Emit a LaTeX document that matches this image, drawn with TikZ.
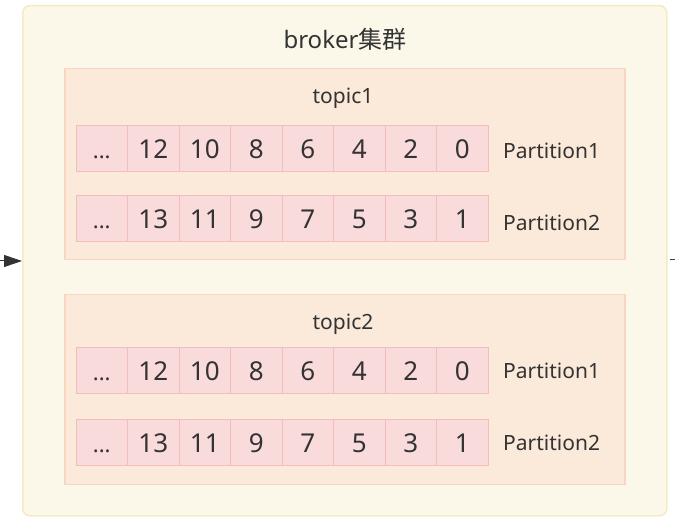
\documentclass[tikz,border=0pt]{standalone}
\usepackage{fontspec}
\setmainfont{Noto Sans}
\newfontfamily\cjk{Noto Sans CJK SC}
\usetikzlibrary{arrows.meta}
\definecolor{outerfill}{HTML}{FBF7E9}
\definecolor{outerdraw}{HTML}{F5EBC2}
\definecolor{topicfill}{HTML}{FBE9DA}
\definecolor{topicdraw}{HTML}{F8D6BF}
\definecolor{cellfill}{HTML}{FADBDC}
\definecolor{celldraw}{HTML}{F2BDBE}
\definecolor{txt}{HTML}{333333}
\newcommand{\dotcell}[1]{\vphantom{0}{\fontsize{22}{26}\selectfont #1}}
\tikzset{
  outerbox/.style={draw=outerdraw, fill=outerfill, line width=1.5pt, rounded corners=7pt},
  topicbox/.style={draw=topicdraw, fill=topicfill, line width=1.5pt},
  cellbox/.style={draw=celldraw, fill=cellfill, line width=1pt, minimum width=51.5pt, minimum height=46pt, inner sep=0pt, font=\fontsize{26}{30}\selectfont, text=txt},
  lbl/.style={font=\fontsize{21}{25}\selectfont, text=txt, inner sep=0pt},
  tlbl/.style={font=\fontsize{21}{25}\selectfont, text=txt, inner sep=0pt},
  title/.style={font=\fontsize{24}{28}\selectfont, text=txt, inner sep=0pt},
}
\begin{document}
\begin{tikzpicture}[x=1pt,y=-1pt]
\useasboundingbox (0,0) rectangle (675,518);
\node[outerbox, minimum width=644pt, minimum height=510pt, anchor=north west] (outer) at (22,5) {};
\node[title] (btitle) at (345,39) {broker{\cjk 集群}};
\node[topicbox, minimum width=560pt, minimum height=191pt, anchor=north west] (topic1) at (64,68) {};
\node[topicbox, minimum width=560pt, minimum height=190pt, anchor=north west] (topic2) at (64,294) {};
\node[tlbl] (t1lbl) at (343,98) {topic1};
\node[tlbl] (t2lbl) at (343,324) {topic2};
% cells
\foreach \t/\ya/\yb in {1/149/219, 2/371/443}{
  \foreach \i/\a/\b in {0/{...}/{...},1/12/13,2/10/11,3/8/9,4/6/7,5/4/5,6/2/3,7/0/1}{
    \node[cellbox] (c\t a\i) at ({101.75+51.5*\i},\ya) {\ifnum\i=0 \dotcell{\a}\else\a\fi};
    \node[cellbox] (c\t b\i) at ({101.75+51.5*\i},\yb) {\ifnum\i=0 \dotcell{\b}\else\b\fi};
  }
}
\node[lbl, anchor=west] (p11) at (503,151) {Partition1};
\node[lbl, anchor=west] (p12) at (503,223) {Partition2};
\node[lbl, anchor=west] (p21) at (503,371) {Partition1};
\node[lbl, anchor=west] (p22) at (503,443) {Partition2};
% connectors
\coordinate (lin) at (0,261);
\coordinate (rout) at (675,260);
\draw[line width=1pt, color=black!80, -{Triangle[length=18pt,width=12pt]}] (lin) -- (outer.west |- lin);
\draw[line width=1pt, color=black!75] (outer.east |- rout) ++(2,0) -- (rout);
\end{tikzpicture}
\end{document}
